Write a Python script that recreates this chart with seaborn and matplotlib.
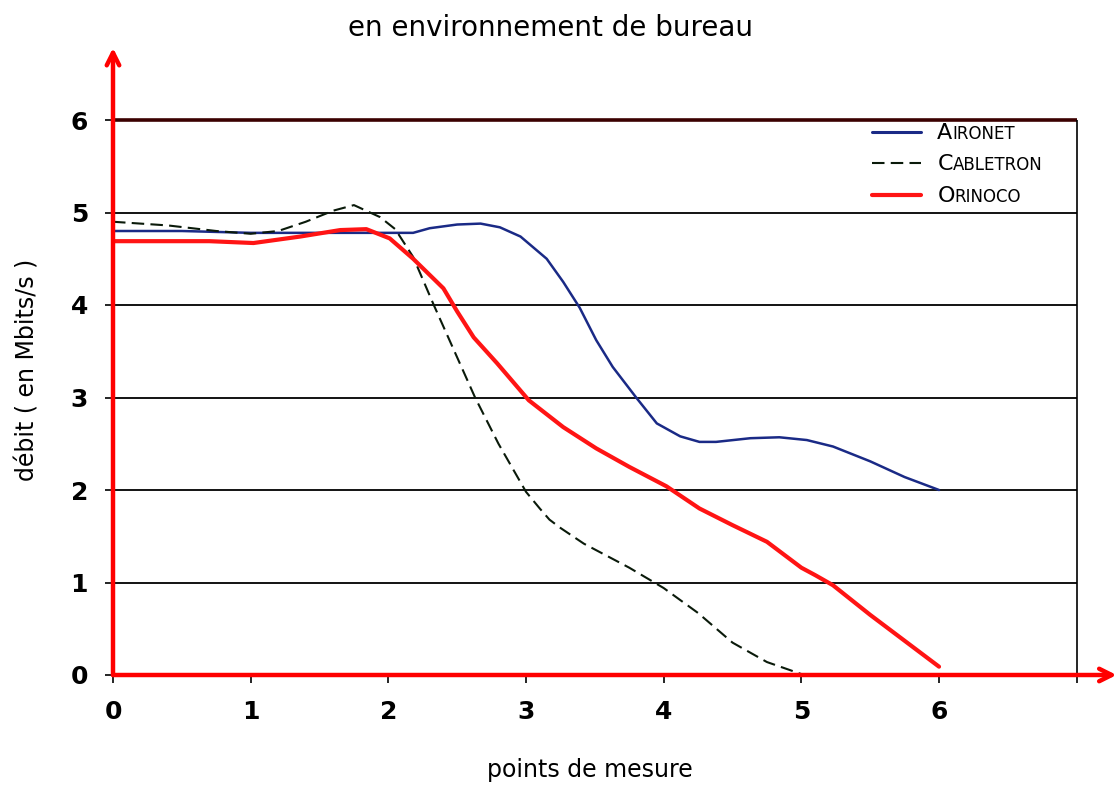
import numpy as np
import pandas as pd
import matplotlib
matplotlib.use("Agg")
import matplotlib.pyplot as plt
import seaborn as sns
from matplotlib.lines import Line2D
from matplotlib.offsetbox import (AnchoredOffsetbox, DrawingArea, HPacker,
                                  TextArea, VPacker)

# ---- data ----
aironet_x = [0, 0.5, 1, 1.5, 2, 2.18, 2.3, 2.5, 2.67, 2.81, 2.96, 3.15, 3.27,
             3.39, 3.51, 3.63, 3.8, 3.95, 4.12, 4.26, 4.38, 4.63, 4.84, 5.04,
             5.23, 5.5, 5.75, 6]
aironet = [4.80, 4.80, 4.78, 4.78, 4.78, 4.78, 4.83, 4.87, 4.88, 4.84, 4.74,
           4.50, 4.25, 3.97, 3.62, 3.33, 3.00, 2.72, 2.58, 2.52, 2.52, 2.56,
           2.57, 2.54, 2.47, 2.31, 2.14, 2.00]
cabletron_x = [0, 0.4, 0.75, 1.0, 1.2, 1.4, 1.6, 1.75, 1.94, 2.05, 2.18, 2.33,
               2.48, 2.63, 2.8, 3.0, 3.1, 3.17, 3.25, 3.42, 3.75, 4.0, 4.25,
               4.5, 4.75, 5.0, 6.0]
cabletron = [4.90, 4.86, 4.80, 4.77, 4.80, 4.90, 5.02, 5.08, 4.95, 4.82, 4.52,
             4.00, 3.50, 3.00, 2.50, 1.98, 1.80, 1.68, 1.59, 1.42, 1.16, 0.94,
             0.67, 0.35, 0.14, 0.01, 0.00]
orinoco_x = [0, 0.7, 1.02, 1.36, 1.65, 1.84, 2.01, 2.18, 2.4, 2.5, 2.62, 2.79,
             3.02, 3.27, 3.51, 3.75, 4.02, 4.26, 4.5, 4.75, 5.0, 5.1, 5.23,
             5.5, 5.75, 6.0]
orinoco = [4.69, 4.69, 4.67, 4.74, 4.81, 4.82, 4.72, 4.50, 4.18, 3.93, 3.65,
           3.37, 2.97, 2.68, 2.45, 2.25, 2.04, 1.80, 1.62, 1.44, 1.16, 1.08,
           0.97, 0.65, 0.37, 0.09]

x_ticks = [0, 1, 2, 3, 4, 5, 6, 7]
x_tick_labels = ["0", "1", "2", "3", "4", "5", "6", ""]
y_ticks = [0, 1, 2, 3, 4, 5, 6]
grid_levels = [1, 2, 3, 4, 5]

series = [
    ("Aironet", aironet_x, aironet, "#1a2a86", "-", 1.8),
    ("Cabletron", cabletron_x, cabletron, "#0a1a0a", (0, (6, 3)), 1.5),
    ("Orinoco", orinoco_x, orinoco, "#ff1414", "-", 3.0),
]

sns.set_style("white")
plt.rcParams["font.family"] = ["DejaVu Sans"]
plt.rcParams["text.color"] = "black"
plt.rcParams["xtick.color"] = "black"
plt.rcParams["ytick.color"] = "black"

fig = plt.figure(figsize=(11.2, 7.9), dpi=100)
ax = fig.add_axes([113 / 1120, 115 / 790, 1005 / 1120, 629 / 790])
ax.set_xlim(0, 7.3)
ax.set_ylim(0, 6.8)

# grid lines stopping at x=7, plus frame on right / top
ax.hlines(grid_levels, 0, 7, color="black", lw=1.3, zorder=1)
ax.hlines([6], 0, 7, color="#3a0000", lw=2.6, zorder=1)
ax.vlines([7], 0, 6, color="black", lw=1.2, zorder=1)

for name, xs, vals, col, ls, lw in series:
    sns.lineplot(x=xs, y=vals, ax=ax, color=col, linestyle=ls, lw=lw,
                 zorder=3, sort=False)

# red axes with open arrow heads
for s in ax.spines.values():
    s.set_visible(False)
arrow = dict(arrowstyle="->,head_length=0.9,head_width=0.45", color="red",
             lw=3.2, shrinkA=0, shrinkB=0)
ax.annotate("", xy=(7.29, 0), xytext=(0, 0), arrowprops=arrow, zorder=5,
            annotation_clip=False)
ax.annotate("", xy=(0, 6.78), xytext=(0, 0), arrowprops=arrow, zorder=5,
            annotation_clip=False)

ax.set_xticks(x_ticks)
ax.set_xticklabels(x_tick_labels)
ax.set_yticks(y_ticks)
ax.tick_params(axis="both", direction="out", length=6, width=1.2,
               color="black", labelcolor="black", labelsize=18, pad=12,
               bottom=True, left=True)
for t in ax.get_xticklabels() + ax.get_yticklabels():
    t.set_fontweight("bold")
ax.set_xlabel("")
ax.set_ylabel("")

fig.text(551 / 1120, 1 - 28 / 790, "en environnement de bureau",
         ha="center", va="center", fontsize=20, color="black")
fig.text(590 / 1120, 1 - 770 / 790, "points de mesure",
         ha="center", va="center", fontsize=17, color="black")
fig.text(28 / 1120, 1 - 370 / 790, "débit ( en Mbits/s )",
         ha="center", va="center", rotation=90, fontsize=17, color="black")

# small-caps style legend
rows = []
for name, xs, vals, col, ls, lw in series:
    da = DrawingArea(35, 12, 0, 0)
    da.add_artist(Line2D([0, 35], [5, 5], color=col, linestyle=ls,
                         lw=max(lw, 2.2) if ls == "-" else lw))
    first = TextArea(name[0], textprops=dict(fontsize=16, color="black"))
    rest = TextArea(name[1:].upper(), textprops=dict(fontsize=12,
                                                      color="black"))
    word = HPacker(children=[first, rest], align="baseline", pad=0, sep=0)
    rows.append(HPacker(children=[da, word], align="baseline", pad=0, sep=12))
box = VPacker(children=rows, align="left", pad=0, sep=8)
anch = AnchoredOffsetbox(loc="upper left", child=box, pad=0, frameon=False,
                         bbox_to_anchor=(872 / 1120, 1 - 122 / 790),
                         bbox_transform=fig.transFigure, borderpad=0)
ax.add_artist(anch)

fig.savefig("out.png", dpi=100)
